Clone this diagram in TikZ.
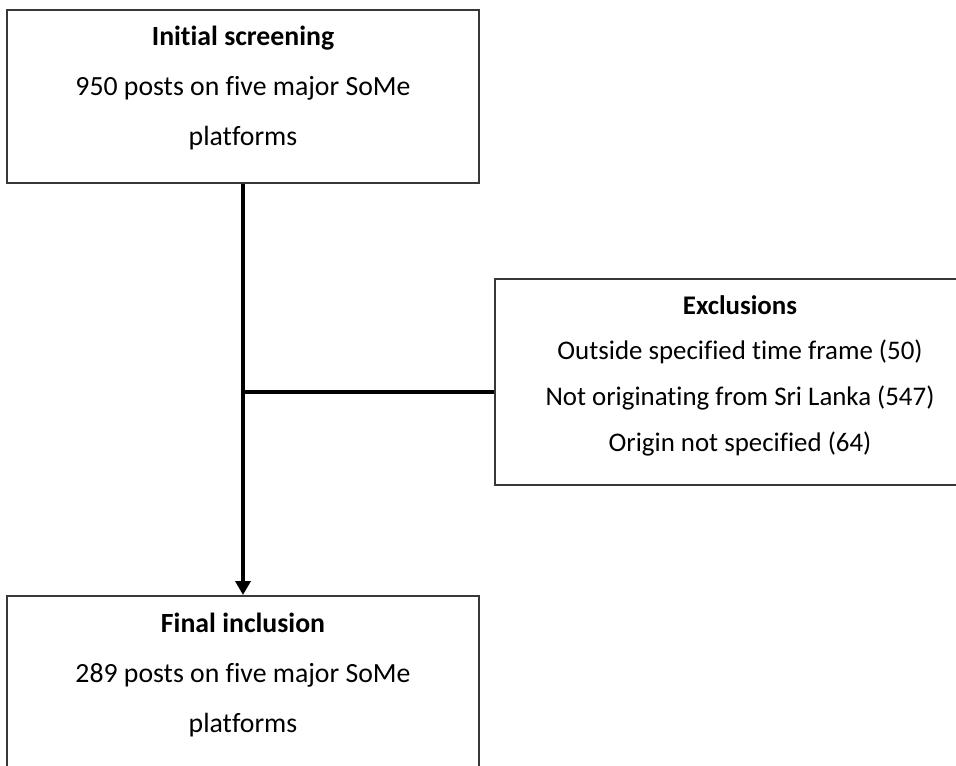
\documentclass[tikz,border=0pt]{standalone}
\usepackage{fontspec}
\setmainfont{Carlito}[Ligatures = NoCommon]
\usetikzlibrary{arrows.meta}
\tikzset{
	box/.style = {draw = black!78, line width = 0.04cm, inner sep = 0pt},
	boxtext/.style = {align = center, inner sep = 0pt, anchor = north,
		font = \fontsize{15.8}{28.5}\selectfont},
	conn/.style = {line width = 0.08cm, black},
}
\begin{document}
\begin{tikzpicture}[x = 0.02cm, y = -0.02cm]
\useasboundingbox (0,0) rectangle (956,766);
\clip (0,0) rectangle (956,766);
\node [box, minimum width = 472*0.02cm, minimum height = 173*0.02cm]
	(screening) at (243,96.5) {};
\node [box, minimum width = 490*0.02cm, minimum height = 206*0.02cm]
	(exclusions) at (740,382) {};
\node [box, minimum width = 472*0.02cm, minimum height = 200*0.02cm]
	(inclusion) at (243,696) {};
\node [boxtext] (screeningtext) at (243,26)
{\textbf{Initial screening}\\950 posts on five major SoMe\\platforms};
\node [boxtext, font = \fontsize{15.3}{26}\selectfont] (exclusionstext)
	at (740,295)
{\textbf{Exclusions}\\Outside specified time frame (50)\\Not originating
	from Sri Lanka (547)\\Origin not specified (64)};
\node [boxtext] (inclusiontext) at (243,613)
{\textbf{Final inclusion}\\289 posts on five major SoMe\\platforms};
\coordinate (junction) at (243,392);
\draw [conn, -{Triangle[width = 0.3cm, length = 0.28cm]}]
	(screening.south) -- (inclusion.north);
\draw [conn] (junction) -- (junction -| exclusions.west);
\end{tikzpicture}
\end{document}
